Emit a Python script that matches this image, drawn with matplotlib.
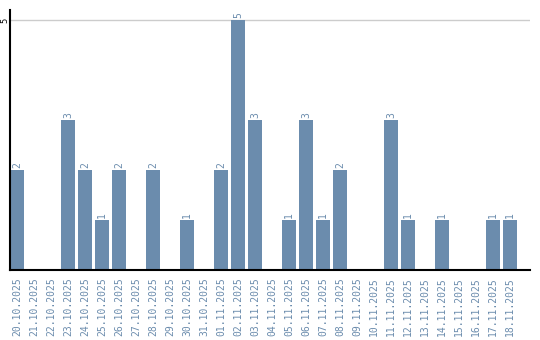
import matplotlib.pyplot as plt
import numpy as np

dates = ["20.10.2025", "21.10.2025", "22.10.2025", "23.10.2025", "24.10.2025",
         "25.10.2025", "26.10.2025", "27.10.2025", "28.10.2025", "29.10.2025",
         "30.10.2025", "31.10.2025", "01.11.2025", "02.11.2025", "03.11.2025",
         "04.11.2025", "05.11.2025", "06.11.2025", "07.11.2025", "08.11.2025",
         "09.11.2025", "10.11.2025", "11.11.2025", "12.11.2025", "13.11.2025",
         "14.11.2025", "15.11.2025", "16.11.2025", "17.11.2025", "18.11.2025"]
counts = [2, 0, 0, 3, 2, 1, 2, 0, 2, 0, 1, 0, 2, 5, 3,
          0, 1, 3, 1, 2, 0, 0, 3, 1, 0, 1, 0, 0, 1, 1]

bar_color = "#6b8cad"
W, H = 540, 340

fig = plt.figure(figsize=(W / 100, H / 100), dpi=100)
ax = fig.add_axes([10 / W, 70 / H, 520 / W, 260 / H])

x = np.arange(len(dates))
w = 14 / 17
ax.bar(x, counts, width=w, color=bar_color, zorder=2)

for xi, c in zip(x, counts):
    if c > 0:
        ax.text(xi, c + 0.04, str(c), rotation=90, ha="center", va="bottom",
                color=bar_color, fontsize=7, family="DejaVu Sans Mono")

ax.set_xlim(-w / 2, (520 / 17) - w / 2)
ax.set_ylim(0, 5.2)
ax.set_yticks([5])
ax.set_yticklabels(["5"], rotation=90, va="center", ha="center", fontsize=6)
ax.axhline(5, color="#cccccc", lw=1, zorder=1)

ax.set_xticks(x)
ax.set_xticklabels(dates, rotation=90, color=bar_color, fontsize=7,
                   family="DejaVu Sans Mono")
ax.tick_params(axis="both", length=0)
ax.tick_params(axis="x", pad=5)
ax.tick_params(axis="y", pad=4)

for s in ["top", "right"]:
    ax.spines[s].set_visible(False)
ax.spines["left"].set_linewidth(1.5)
ax.spines["bottom"].set_linewidth(1.5)

fig.savefig("out.png", dpi=100)
